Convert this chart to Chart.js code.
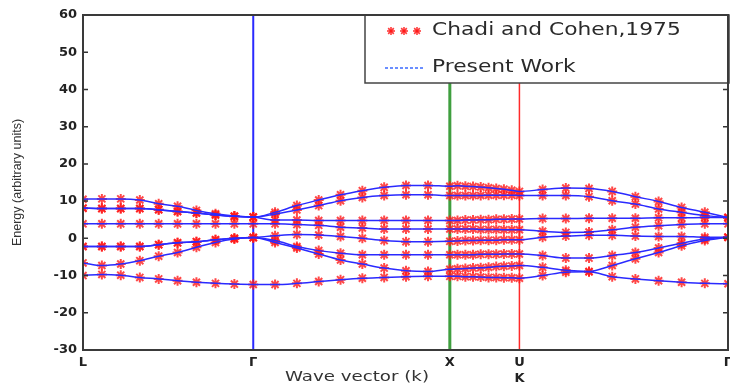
<!DOCTYPE html>
<html>
<head>
<meta charset="utf-8">
<script src="https://cdn.jsdelivr.net/npm/chart.js@4.4.0/dist/chart.umd.min.js"></script>
<style>
  html, body { margin: 0; padding: 0; background: #fff; }
  canvas { display: block; }
</style>
</head>
<body>
<canvas id="myChart" width="730" height="385"></canvas>
<script>
// symmetry points along the path (path length units)
const symPoints = [0, 0.866, 1.866, 2.22, 3.281];
const symLabels = ["L", "\u0393", "X", ["U", "K"], "\u0393"];

// k positions of the computed points: L-G, G-X, X-U, K-G
const kPath = [
  0, 0.096, 0.192, 0.289, 0.385, 0.481, 0.577, 0.674, 0.77, 0.866,
  0.977, 1.088, 1.199, 1.31, 1.421, 1.532, 1.643, 1.755, 1.866,
  1.905, 1.945, 1.984, 2.023, 2.063, 2.102, 2.141, 2.181, 2.22,
  2.338, 2.456, 2.574, 2.692, 2.81, 2.928, 3.045, 3.163, 3.281
];

// band energies
const band1 = [
  10.5, 10.6, 10.6, 10.3, 9.3, 8.6, 7.5, 6.6, 6.0, 5.7,
  7.0, 8.8, 10.3, 11.7, 12.8, 13.7, 14.2, 14.2, 14.0,
  14.1, 14.0, 13.9, 13.8, 13.6, 13.4, 13.2, 12.9, 12.6,
  13.1, 13.5, 13.4, 12.6, 11.2, 9.9, 8.3, 7.0, 5.6
];
const band2 = [
  8.1, 8.0, 8.0, 8.0, 7.7, 7.2, 6.8, 6.3, 5.9, 5.7,
  6.5, 7.6, 8.8, 10.1, 11.0, 11.5, 11.7, 11.7, 11.5,
  11.5, 11.5, 11.5, 11.5, 11.6, 11.6, 11.6, 11.6, 11.5,
  11.5, 11.5, 11.2, 10.1, 9.2, 7.9, 7.0, 6.1, 5.6
];
const band3 = [
  8.1, 8.0, 8.0, 8.0, 7.7, 7.2, 6.8, 6.3, 5.9, 5.7,
  4.9, 4.9, 4.8, 4.8, 4.8, 4.8, 4.8, 4.8, 4.8,
  4.8, 4.9, 4.9, 5.0, 5.0, 5.1, 5.1, 5.2, 5.2,
  5.3, 5.3, 5.4, 5.4, 5.4, 5.5, 5.5, 5.6, 5.6
];
const band4 = [
  3.9, 3.9, 3.9, 3.9, 3.9, 3.9, 3.9, 3.9, 3.9, 3.9,
  3.9, 3.7, 3.5, 3.0, 2.8, 2.5, 2.5, 2.5, 2.5,
  2.5, 2.5, 2.5, 2.4, 2.4, 2.4, 2.3, 2.3, 2.3,
  1.9, 1.6, 1.7, 2.3, 3.0, 3.4, 3.7, 3.9, 3.9
];
const band5 = [
  -2.2, -2.2, -2.2, -2.2, -1.7, -1.2, -0.9, -0.4, 0.0, 0.2,
  0.7, 1.0, 0.9, 0.5, 0.0, -0.6, -0.9, -0.9, -0.8,
  -0.7, -0.6, -0.6, -0.5, -0.5, -0.5, -0.4, -0.4, -0.4,
  0.3, 0.6, 0.8, 0.8, 0.6, 0.5, 0.5, 0.3, 0.3
];
const band6 = [
  -2.2, -2.2, -2.2, -2.2, -1.7, -1.2, -0.9, -0.4, 0.0, 0.2,
  -0.6, -2.2, -3.3, -4.0, -4.4, -4.4, -4.4, -4.4, -4.4,
  -4.4, -4.4, -4.4, -4.3, -4.3, -4.3, -4.2, -4.2, -4.2,
  -4.6, -5.3, -5.3, -4.6, -3.8, -2.6, -1.3, -0.2, 0.3
];
const band7 = [
  -6.6, -7.3, -6.9, -6.0, -4.8, -3.8, -2.4, -1.1, -0.2, 0.2,
  -1.1, -2.6, -4.2, -5.8, -6.9, -8.0, -8.7, -8.9, -8.3,
  -8.2, -8.1, -8.0, -7.9, -7.8, -7.6, -7.5, -7.4, -7.3,
  -7.8, -8.6, -8.9, -7.3, -5.5, -3.8, -2.0, -0.6, 0.3
];
const band8 = [
  -10.0, -9.7, -9.9, -10.5, -10.9, -11.4, -11.8, -12.1, -12.3, -12.4,
  -12.4, -12.1, -11.6, -11.1, -10.7, -10.5, -10.3, -10.2, -10.2,
  -10.2, -10.3, -10.3, -10.4, -10.5, -10.5, -10.6, -10.6, -10.7,
  -10.0, -9.1, -9.0, -10.3, -10.9, -11.4, -11.8, -12.1, -12.2
];
const bands = [band1, band2, band3, band4, band5, band6, band7, band8];

const yMin = -30, yMax = 60, yStep = 10;
const legendLabels = ["Chadi and Cohen,1975", "Present Work"];
const xTitle = "Wave vector (k)";
const yTitle = "Energy (arbitrary units)";

function toPoints(band) {
  return kPath.map((k, i) => ({ x: k, y: band[i] }));
}

let datasets = [];
bands.forEach((band) => {
  datasets.push({
    data: toPoints(band),
    showLine: true,
    borderColor: "#2a2aff",
    borderWidth: 1.5,
    pointRadius: 0,
    cubicInterpolationMode: "monotone",
    order: 1,
  });
  datasets.push({
    data: toPoints(band),
    showLine: false,
    pointStyle: "star",
    pointRadius: 5,
    pointBorderWidth: 2,
    pointBorderColor: "rgba(255,25,25,0.8)",
    pointBackgroundColor: "rgba(255,25,25,0.8)",
    order: 2,
  });
});

// vertical markers at G, X and U/K
const symLineColors = ["#2a2aff", "#3f9f3f", "#ff2a2a"];
const symLineWidths = [2, 3, 1.5];
[1, 2, 3].forEach((idx, j) => {
  datasets.push({
    data: [{ x: symPoints[idx], y: yMin }, { x: symPoints[idx], y: yMax }],
    showLine: true,
    borderColor: symLineColors[j],
    borderWidth: symLineWidths[j],
    pointRadius: 0,
    order: 3,
  });
});

const framePlugin = {
  id: "frame",
  afterDraw(chart) {
    const { ctx, chartArea } = chart;
    const { left, right, top, bottom } = chartArea;
    const yScale = chart.scales.y;
    ctx.save();

    // inward tick marks
    ctx.strokeStyle = "#333";
    ctx.lineWidth = 1.5;
    for (let v = yMin; v <= yMax; v += yStep) {
      const py = yScale.getPixelForValue(v);
      ctx.beginPath();
      ctx.moveTo(left, py);
      ctx.lineTo(left + 5, py);
      ctx.moveTo(right, py);
      ctx.lineTo(right - 5, py);
      ctx.stroke();
    }

    // legend box
    const lx = 365, ly = top, lw = right + 1 - lx, lh = 68;
    ctx.fillStyle = "#fff";
    ctx.fillRect(lx, ly, lw, lh);
    ctx.strokeStyle = "#444";
    ctx.lineWidth = 1.5;
    ctx.strokeRect(lx, ly, lw, lh);

    // axes frame
    ctx.strokeStyle = "#3a3a3a";
    ctx.lineWidth = 2;
    ctx.strokeRect(left, top, right - left, bottom - top);

    // legend entries
    const row1 = ly + 16, row2 = ly + 53;
    ctx.strokeStyle = "rgba(255,25,25,0.85)";
    ctx.lineWidth = 1.6;
    [391, 404, 417].forEach((cx) => {
      for (let a = 0; a < 4; a++) {
        const ang = (a * Math.PI) / 4;
        ctx.beginPath();
        ctx.moveTo(cx - 4 * Math.cos(ang), row1 - 4 * Math.sin(ang));
        ctx.lineTo(cx + 4 * Math.cos(ang), row1 + 4 * Math.sin(ang));
        ctx.stroke();
      }
    });
    ctx.strokeStyle = "#3a6aff";
    ctx.lineWidth = 1.5;
    ctx.setLineDash([3, 2]);
    ctx.beginPath();
    ctx.moveTo(385, row2);
    ctx.lineTo(424, row2);
    ctx.stroke();
    ctx.setLineDash([]);

    ctx.fillStyle = "#2a2a2a";
    ctx.font = '17px "DejaVu Sans"';
    ctx.textBaseline = "middle";
    ctx.textAlign = "left";
    [[legendLabels[0], row1], [legendLabels[1], row2]].forEach(([txt, ry]) => {
      ctx.save();
      ctx.translate(432, ry);
      ctx.scale(1.28, 1);
      ctx.fillText(txt, 0, 0);
      ctx.restore();
    });

    // x axis title
    ctx.font = '14px "DejaVu Sans"';
    ctx.textAlign = "center";
    ctx.fillStyle = "#333";
    ctx.save();
    ctx.translate(357, 377);
    ctx.scale(1.3, 1);
    ctx.fillText(xTitle, 0, 0);
    ctx.restore();

    ctx.restore();
  },
};

const ctx = document.getElementById("myChart");
new Chart(ctx, {
  type: "scatter",
  data: { datasets: datasets },
  options: {
    responsive: false,
    animation: false,
    devicePixelRatio: 1,
    layout: { autoPadding: false, padding: { top: 15, right: 2, left: 0, bottom: 0 } },
    plugins: {
      legend: { display: false },
      tooltip: { enabled: false },
    },
    scales: {
      x: {
        type: "linear",
        min: symPoints[0],
        max: symPoints[symPoints.length - 1],
        afterBuildTicks(scale) {
          scale.ticks = symPoints.map((v) => ({ value: v }));
        },
        afterFit(scale) {
          scale.height = 35;
          scale.paddingLeft = 0;
          scale.paddingRight = 0;
        },
        ticks: {
          autoSkip: false,
          maxRotation: 0,
          padding: 5,
          color: "#222",
          font: { family: "DejaVu Sans", size: 13, weight: "bold", lineHeight: 1.2 },
          callback: (value, index) => symLabels[index],
        },
        grid: { display: false, drawTicks: false },
        border: { display: false },
      },
      y: {
        min: yMin,
        max: yMax,
        afterFit(scale) {
          scale.width = 83;
          scale.paddingTop = 0;
          scale.paddingBottom = 0;
        },
        ticks: {
          stepSize: yStep,
          padding: 6,
          color: "#222",
          font: { family: "DejaVu Sans", size: 13, weight: "bold" },
        },
        grid: { display: false, drawTicks: false },
        border: { display: false },
        title: {
          display: true,
          text: yTitle,
          color: "#333",
          font: { family: "Liberation Sans", size: 12.5 },
          padding: { top: 10, bottom: 0 },
        },
      },
    },
  },
  plugins: [framePlugin],
});
</script>
</body>
</html>
